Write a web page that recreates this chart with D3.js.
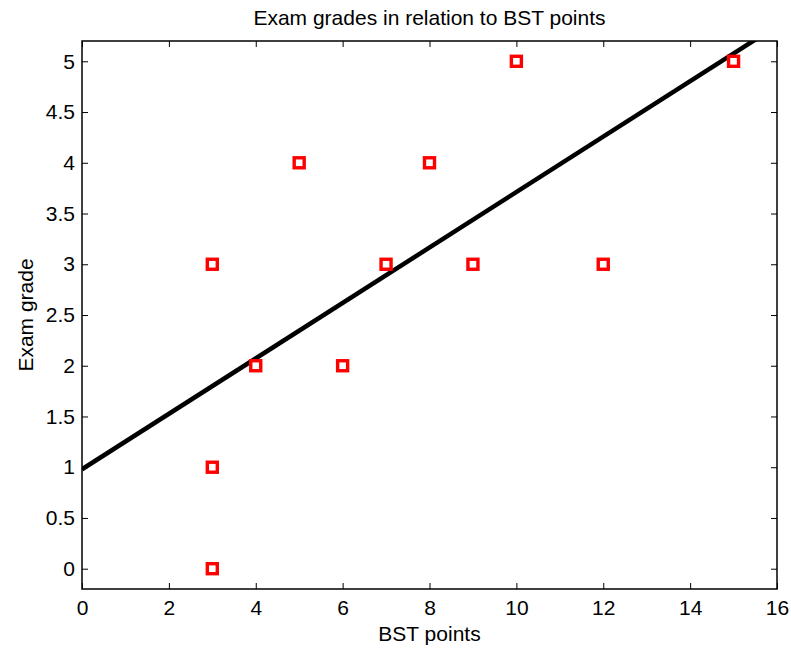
<!DOCTYPE html>
<html>
<head>
<meta charset="utf-8">
<script src="https://cdn.jsdelivr.net/npm/d3@7"></script>
<style>
  body { margin: 0; background: #fff; }
  text { font-family: "Liberation Sans", Arial, sans-serif; fill: #000; }
</style>
</head>
<body>
<svg id="chart" width="791" height="648"></svg>
<script>
// BST points vs exam grade
const bstPoints  = [3, 3, 3, 4, 5, 6, 7, 8, 9, 10, 12, 15];
const examGrades = [0, 1, 3, 2, 4, 2, 3, 4, 3, 5, 3, 5];

// fitted line end points
const fitX = [0, 16];
const fitY = [0.98, 5.35];

const xTicks = [0, 2, 4, 6, 8, 10, 12, 14, 16];
const yTicks = [0, 0.5, 1, 1.5, 2, 2.5, 3, 3.5, 4, 4.5, 5];

const margin = {top: 41, right: 14, bottom: 59, left: 82};
const width = 791, height = 648;
const FONT = '21px';

const svg = d3.select('#chart');
const w = width - margin.left - margin.right;
const h = height - margin.top - margin.bottom;

const xScale = d3.scaleLinear().domain([0, 16]).range([0, w]);
const yScale = d3.scaleLinear().domain([-0.2, 5.2]).range([h, 0]);

const g = svg.append('g')
    .attr('transform', 'translate(' + margin.left + ',' + margin.top + ')');

g.append('clipPath').attr('id', 'plotClip')
    .append('rect').attr('width', w).attr('height', h);

// axes, ticks pointing inward like matlab
function styleAxis(sel){
    sel.select('.domain').remove();
    sel.selectAll('line').attr('stroke', '#000').attr('stroke-width', 1);
    sel.selectAll('text').style('font-size', FONT);
}

g.append('g')
    .attr('transform', 'translate(0,' + h + ')')
    .call(d3.axisBottom(xScale).tickValues(xTicks).tickSize(-6).tickPadding(11).tickFormat(d3.format('d')))
    .call(styleAxis);
g.append('g')
    .call(d3.axisTop(xScale).tickValues(xTicks).tickSize(-6).tickFormat(''))
    .call(styleAxis);
g.append('g')
    .call(d3.axisLeft(yScale).tickValues(yTicks).tickSize(-6).tickPadding(7).tickFormat(d => d))
    .call(styleAxis);
g.append('g')
    .attr('transform', 'translate(' + w + ',0)')
    .call(d3.axisRight(yScale).tickValues(yTicks).tickSize(-6).tickFormat(''))
    .call(styleAxis);

g.append('rect')
    .attr('width', w).attr('height', h)
    .attr('fill', 'none').attr('stroke', '#000').attr('stroke-width', 1.5);

// fit line
const line = d3.line()
    .x(function(d, i){ return xScale(fitX[i]); })
    .y(function(d){ return yScale(d); });
g.append('path')
    .datum(fitY)
    .attr('clip-path', 'url(#plotClip)')
    .attr('d', line)
    .attr('fill', 'none')
    .attr('stroke', '#000')
    .attr('stroke-width', 4.5);

// markers
const S = 10;
g.append('g').selectAll('rect')
    .data(bstPoints)
    .enter()
    .append('rect')
    .attr('x', function(d){ return xScale(d) - S / 2; })
    .attr('y', function(d, i){ return yScale(examGrades[i]) - S / 2; })
    .attr('width', S)
    .attr('height', S)
    .attr('fill', '#fff')
    .attr('stroke', '#ff0000')
    .attr('stroke-width', 3.4);

// titles
svg.append('text')
    .attr('x', margin.left + w / 2).attr('y', 25)
    .attr('text-anchor', 'middle')
    .style('font-size', FONT)
    .text('Exam grades in relation to BST points');
svg.append('text')
    .attr('x', margin.left + w / 2).attr('y', 641)
    .attr('text-anchor', 'middle')
    .style('font-size', FONT)
    .text('BST points');
svg.append('text')
    .attr('transform', 'translate(33,' + (margin.top + h / 2) + ') rotate(-90)')
    .attr('text-anchor', 'middle')
    .style('font-size', FONT)
    .text('Exam grade');
</script>
</body>
</html>
